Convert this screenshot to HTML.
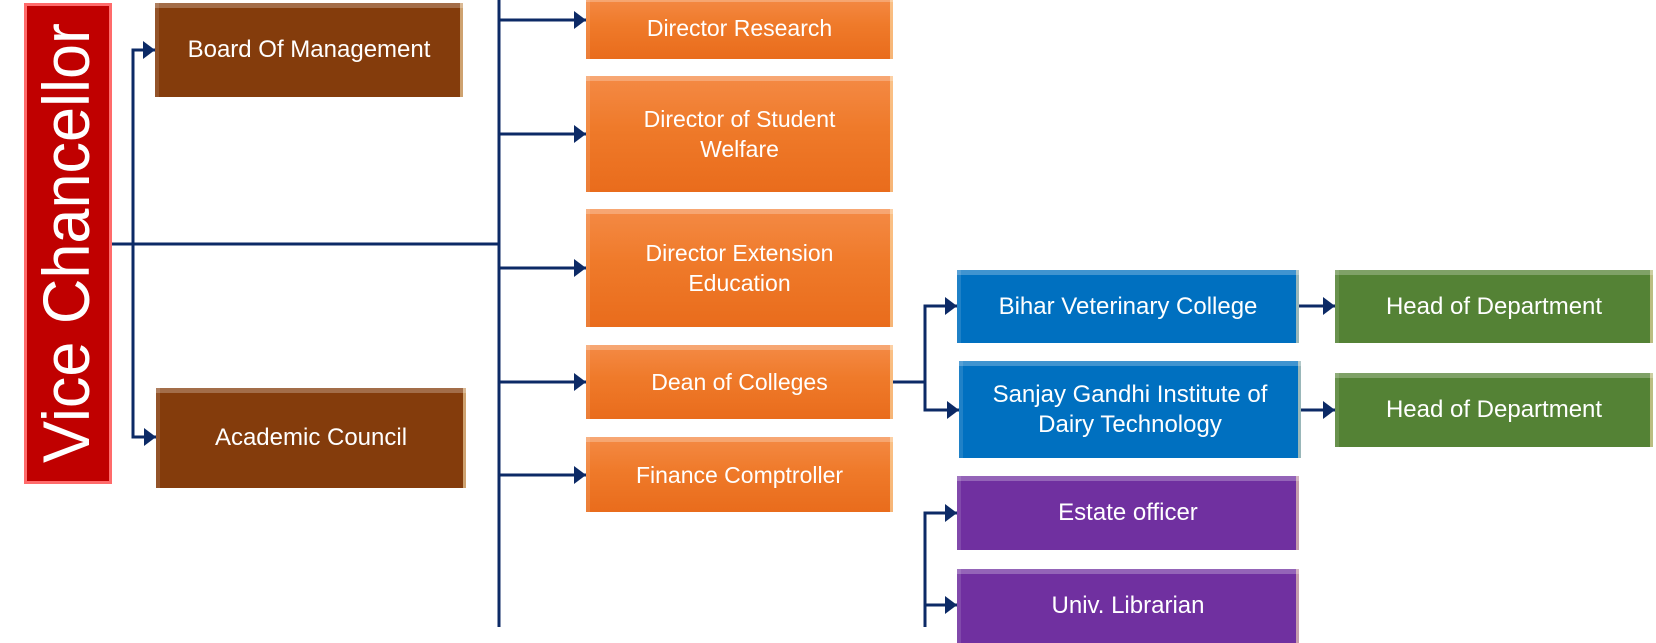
<!DOCTYPE html>
<html><head><meta charset="utf-8"><style>
html,body{margin:0;padding:0;background:#fff;width:1656px;height:627px;overflow:hidden;font-family:"Liberation Sans",sans-serif}
.b{position:absolute;box-sizing:border-box;color:#fff;display:flex;align-items:center;justify-content:center;text-align:center;font-size:23px;line-height:30px;box-shadow:inset 0 5px 0 rgba(255,255,255,.25),inset 4px 0 0 rgba(255,255,255,.12),inset -3px 0 0 rgba(255,230,180,.6)}
.o{background:linear-gradient(#f48a45,#ef7a2a 45%,#e96c1c);}
.br{background:#843c0c;font-size:24px}
.bl{background:#0070c0;font-size:24px}
.g{background:#548235;font-size:24px}
.p{background:#7030a0;font-size:24px}
</style></head><body>
<svg width="1656" height="627" style="position:absolute;left:0;top:0">
<defs><marker id="a" markerWidth="12" markerHeight="18" refX="12" refY="9" orient="auto" markerUnits="userSpaceOnUse"><path d="M0,0 L12,9 L0,18z" fill="#0c2a66"/></marker></defs>
<g stroke="#0c2a66" stroke-width="3" fill="none">
<line x1="112" y1="244" x2="499" y2="244"/>
<line x1="499" y1="0" x2="499" y2="627"/>
<polyline points="133,244 133,50 155,50" marker-end="url(#a)"/>
<polyline points="133,244 133,437 156,437" marker-end="url(#a)"/>
<line x1="499" y1="20" x2="586" y2="20" marker-end="url(#a)"/>
<line x1="499" y1="134" x2="586" y2="134" marker-end="url(#a)"/>
<line x1="499" y1="268" x2="586" y2="268" marker-end="url(#a)"/>
<line x1="499" y1="382" x2="586" y2="382" marker-end="url(#a)"/>
<line x1="499" y1="475" x2="586" y2="475" marker-end="url(#a)"/>
<line x1="893" y1="382" x2="925" y2="382"/>
<polyline points="925,382 925,306 957,306" marker-end="url(#a)"/>
<polyline points="925,382 925,410 959,410" marker-end="url(#a)"/>
<line x1="1299" y1="306" x2="1335" y2="306" marker-end="url(#a)"/>
<line x1="1301" y1="410" x2="1335" y2="410" marker-end="url(#a)"/>
<polyline points="925,627 925,513 957,513" marker-end="url(#a)"/>
<line x1="925" y1="605" x2="957" y2="605" marker-end="url(#a)"/>
</g>
<rect x="24" y="3" width="88" height="481" fill="#c00000"/>
<rect x="25.5" y="4.5" width="85" height="478" fill="none" stroke="#ff6b6b" stroke-width="3"/>
<text transform="translate(89,463) rotate(-90)" font-family="Liberation Sans, sans-serif" font-size="66" fill="#fff" textLength="440" lengthAdjust="spacingAndGlyphs">Vice Chancellor</text>
</svg>
<div class="b br" style="left:155px;top:3px;width:308px;height:94px">Board Of Management</div>
<div class="b br" style="left:156px;top:388px;width:310px;height:100px">Academic Council</div>
<div class="b o" style="left:586px;top:-3px;width:307px;height:62px">Director Research</div>
<div class="b o" style="left:586px;top:76px;width:307px;height:116px">Director of Student<br>Welfare</div>
<div class="b o" style="left:586px;top:209px;width:307px;height:118px">Director Extension<br>Education</div>
<div class="b o" style="left:586px;top:345px;width:307px;height:74px">Dean of Colleges</div>
<div class="b o" style="left:586px;top:437px;width:307px;height:75px">Finance Comptroller</div>
<div class="b bl" style="left:957px;top:270px;width:342px;height:73px">Bihar Veterinary College</div>
<div class="b bl" style="left:959px;top:361px;width:342px;height:97px">Sanjay Gandhi Institute of<br>Dairy Technology</div>
<div class="b g" style="left:1335px;top:270px;width:318px;height:73px">Head of Department</div>
<div class="b g" style="left:1335px;top:373px;width:318px;height:74px">Head of Department</div>
<div class="b p" style="left:957px;top:476px;width:342px;height:74px">Estate officer</div>
<div class="b p" style="left:957px;top:569px;width:342px;height:74px">Univ. Librarian</div>
</body></html>
